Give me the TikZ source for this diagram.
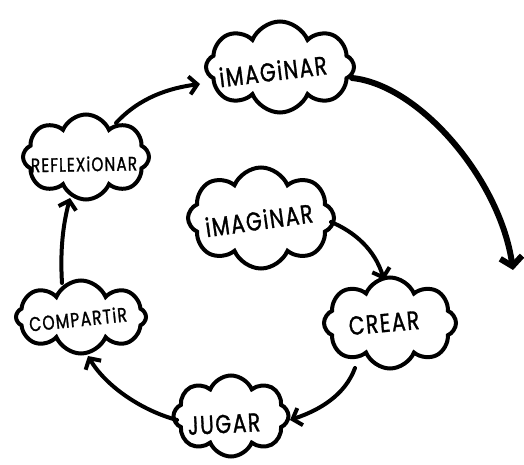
\documentclass[tikz,border=0pt]{standalone}
\usepackage{fontspec}
\newfontfamily\hand[FakeStretch=0.78,FakeBold=1.2,LetterSpace=6]{Poppins}
\usetikzlibrary{shapes.symbols,arrows.meta,calc}
\begin{document}
\begin{tikzpicture}[x=1pt,y=-1pt,
  cloudbox/.style={cloud, cloud puffs=8, cloud puff arc=135, draw=black, line width=4pt, fill=white, inner sep=0pt},
  lbl/.style={text=black, inner sep=0pt},
  conn/.style={line width=4pt, line cap=round, -{Straight Barb[length=8pt,width=18pt]}},
  bigconn/.style={line width=6pt, line cap=round, -{Straight Barb[length=9pt,width=22pt]}}
]
\useasboundingbox (0,0) rectangle (524,465);
% clouds
\node[cloudbox, minimum width=148pt, minimum height=91pt] (top) at (280,67) {};
\node[cloudbox, minimum width=126pt, minimum height=85pt] (refl) at (86,157) {};
\node[cloudbox, minimum width=146pt, minimum height=101pt] (inner) at (261,218) {};
\node[cloudbox, minimum width=130pt, minimum height=73pt] (comp) at (81,317) {};
\node[cloudbox, minimum width=132pt, minimum height=91pt] (crear) at (390,323) {};
\node[cloudbox, minimum width=115pt, minimum height=81pt] (jugar) at (231,416) {};
% connectors
\draw[conn] ($(refl)+(30,-34)$) .. controls ($(refl)+(54,-60)$) and ($(top)+(-110,21)$) .. ($(top)+(-80,17)$);
\draw[bigconn] ($(top)+(72,11)$) .. controls ($(top)+(140,18)$) and ($(top)+(220,113)$) .. ($(top)+(233,203)$);
\draw[conn] ($(inner)+(70,4)$) .. controls ($(inner)+(94,14)$) and ($(crear)+(-15,-73)$) .. ($(crear)+(-6,-43)$);
\draw[conn] ($(crear)+(-35,45)$) .. controls ($(crear)+(-45,72)$) and ($(jugar)+(89,-6)$) .. ($(jugar)+(59,4)$);
\draw[conn] ($(jugar)+(-54,4)$) .. controls ($(jugar)+(-91,-6)$) and ($(comp)+(24,68)$) .. ($(comp)+(7,39)$);
\draw[conn] ($(comp)+(-19,-34)$) .. controls ($(comp)+(-21,-67)$) and ($(refl)+(-23,68)$) .. ($(refl)+(-16,41)$);
% labels
\node[lbl, font=\hand\fontsize{26}{28}\selectfont, rotate=7] (ttop) at (273,71) {iMAGiNAR};
\node[lbl, font=\hand\fontsize{19.5}{22}\selectfont, rotate=1] (trefl) at (84,164) {REFLEXiONAR};
\node[lbl, font=\hand\fontsize{26}{28}\selectfont, rotate=8] (tinner) at (259,220) {iMAGiNAR};
\node[lbl, font=\hand\fontsize{20}{22}\selectfont, rotate=6] (tcomp) at (78,319) {COMPARTiR};
\node[lbl, font=\hand\fontsize{26}{28}\selectfont, rotate=5] (tcrear) at (384,323) {CREAR};
\node[lbl, font=\hand\fontsize{26}{28}\selectfont, rotate=3] (tjugar) at (224,424) {JUGAR};
\end{tikzpicture}
\end{document}
